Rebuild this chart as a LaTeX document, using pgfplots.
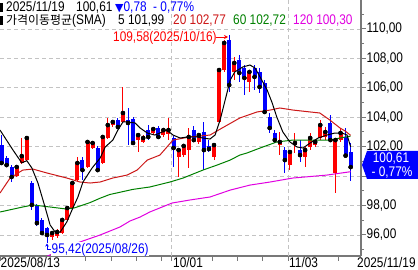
\documentclass[border=0pt]{standalone}
\usepackage{fontspec}
\usepackage{pgfplots}
\pgfplotsset{compat=1.18}
\usepackage{pgfplotstable}
\usetikzlibrary{arrows.meta}
\setmainfont[FakeStretch=0.85]{Liberation Sans}
\newfontfamily\kr{Noto Sans CJK KR}
\newfontfamily\dv{DejaVu Sans}
\newcommand\cf{\fontsize{14}{16}\selectfont}
\definecolor{upred}{RGB}{255,0,0}
\definecolor{dnblue}{RGB}{0,0,255}
\definecolor{ma20}{RGB}{204,24,24}
\definecolor{ma60}{RGB}{0,128,0}
\definecolor{ma120}{RGB}{224,0,224}
\definecolor{axgray}{RGB}{120,120,120}
\definecolor{gridgray}{RGB}{195,195,195}

\pgfplotstableread{
i O H L C
3 100.01 100.75 99.94 100.62
4 100.89 102.59 100.82 101.36
5 101.09 102.66 101.02 102.59
10 95.86 96.27 95.66 96.13
11 95.93 96.40 95.79 96.20
12 96.13 97.15 96.07 97.02
13 97.02 97.97 96.95 97.83
14 97.83 99.60 97.76 99.53
15 99.73 101.30 99.67 100.89
17 100.62 102.45 100.55 102.32
18 101.91 102.39 101.84 102.25
20 100.89 102.73 100.82 102.66
21 102.59 103.95 102.52 103.47
22 103.47 103.81 103.34 103.68
24 103.68 106.08 103.61 104.29
27 102.45 102.93 101.64 102.79
28 102.32 102.79 102.25 102.59
30 102.93 103.34 102.79 103.20
32 102.79 103.27 102.66 103.13
33 102.86 103.95 102.45 103.13
35 101.30 101.91 99.94 101.77
36 101.43 102.18 101.30 102.05
37 101.77 103.27 100.55 102.66
39 102.32 102.93 102.18 102.79
42 101.30 102.25 101.09 102.11
43 103.68 107.35 103.61 107.21
44 107.21 109.25 107.08 109.05
46 107.08 108.10 106.53 107.69
49 106.40 107.21 105.72 107.08
55 102.11 103.00 101.43 102.32
57 100.75 101.77 100.41 101.64
58 102.11 102.93 101.57 102.25
60 101.30 101.98 100.62 101.77
61 101.98 102.93 101.77 102.59
62 102.11 102.45 101.98 102.32
63 102.59 103.81 102.45 103.47
64 102.66 103.34 102.45 103.00
66 100.21 102.59 98.85 102.45
67 102.45 103.27 102.32 102.93
}\up

\pgfplotstableread{
i O H L C
0 102.11 102.79 100.75 100.89
1 101.23 101.36 100.62 100.75
2 100.62 100.75 99.60 99.94
6 99.53 99.67 97.70 98.04
7 98.04 98.10 96.61 96.81
8 97.02 97.15 96.00 96.13
9 96.47 96.54 95.42 96.00
16 101.09 101.30 99.73 100.41
19 101.91 102.05 100.28 100.41
23 103.81 103.95 103.20 103.34
25 103.81 104.63 102.11 103.61
26 103.88 104.02 102.11 102.25
29 103.13 103.47 102.45 102.66
31 103.27 103.40 102.52 102.66
34 102.59 102.73 100.62 101.91
38 103.13 103.40 102.32 102.45
40 103.00 103.68 100.41 101.77
41 102.05 102.45 101.64 101.84
45 109.25 109.58 105.72 106.19
47 107.89 108.24 106.40 107.01
48 107.35 107.55 105.51 106.67
50 107.35 107.55 105.85 106.74
51 107.08 107.35 105.65 106.06
52 106.33 106.53 104.29 104.36
53 104.02 104.29 102.93 103.27
54 102.93 103.13 102.25 102.45
56 101.77 101.98 100.21 101.09
59 101.77 102.45 100.96 101.43
65 103.61 104.15 102.32 102.45
68 102.66 103.27 101.30 101.39
69 101.64 102.25 99.67 100.61
}\down

\begin{document}
\begin{tikzpicture}
\path[use as bounding box] (0bp,-14bp) rectangle (418bp,256bp);
\begin{axis}[
  at={(0bp,0bp)}, anchor=south west,
  scale only axis, width=361bp, height=256bp,
  xmin=-0.3, xmax=71.05, ymin=94.57, ymax=111.97,
  axis x line*=bottom, axis y line*=right,
  axis line style={draw=axgray, line width=1.6bp},
  tick align=outside,
  major tick length=4.5bp, minor tick length=3bp,
  tick style={draw=axgray, line width=1bp},
  xtick={-0.3,16.65,21.65,26.65,31.65,33.65,41.65,46.65,51.65,56.65,66.65},
  xticklabels={,,},
  ytick={96,98,...,110},
  yticklabels={{96,00},{98,00},{},{102,00},{104,00},{106,00},{108,00},{110,00}},
  minor ytick={95,97,...,111},
  ymajorgrids,
  major grid style={draw=gridgray, dash pattern=on 4bp off 3bp, line width=0.8bp},
  yticklabel style={font=\cf, anchor=west, inner sep=0pt, xshift=1bp},
  clip=true,
]
\draw[draw=gridgray, dash pattern=on 4bp off 3bp, line width=0.8bp] (axis cs:33.65,94.57) -- (axis cs:33.65,111.97);
\draw[draw=gridgray, dash pattern=on 4bp off 3bp, line width=0.8bp] (axis cs:56.65,94.57) -- (axis cs:56.65,111.97);

% wicks
\addplot[only marks, mark=none, forget plot,
  error bars/.cd, y dir=both, y explicit, error mark=none,
  error bar style={line width=1bp, draw=upred}]
  table[x=i, y=C, y error plus expr={\thisrow{H}-\thisrow{C}}, y error minus expr={\thisrow{C}-\thisrow{L}}] {\up};
\addplot[only marks, mark=none, forget plot,
  error bars/.cd, y dir=both, y explicit, error mark=none,
  error bar style={line width=1bp, draw=dnblue}]
  table[x=i, y=C, y error plus expr={\thisrow{H}-\thisrow{C}}, y error minus expr={\thisrow{C}-\thisrow{L}}] {\down};
% bodies
\addplot[only marks, mark=none, forget plot,
  error bars/.cd, y dir=minus, y explicit, error mark=none,
  error bar style={line width=4bp, draw=upred}]
  table[x=i, y=C, y error minus expr={max(\thisrow{C}-\thisrow{O},0.07)}] {\up};
\addplot[only marks, mark=none, forget plot,
  error bars/.cd, y dir=plus, y explicit, error mark=none,
  error bar style={line width=4bp, draw=dnblue}]
  table[x=i, y=C, y error plus expr={max(\thisrow{O}-\thisrow{C},0.07)}] {\down};

% moving averages
\addplot[ma120, line width=1bp, mark=none] coordinates {
(8.0,94.40) (14.9,95.45) (19.5,96.00) (23.4,96.54) (25.4,96.95) (27.4,97.22) (29.3,97.56) (33.7,98.17) (37.3,98.38) (41.2,98.58) (45.2,99.05) (49.1,99.39) (53.1,99.60) (57.6,99.87) (64.3,100.07) (69,100.30)};
\addplot[ma60, line width=1bp, mark=none] coordinates {
(-0.3,97.56) (4.2,97.90) (6.2,98.04) (9.6,97.90) (12.9,97.76) (14.5,97.85) (17.5,98.20) (19.5,98.50) (21.4,98.75) (26.0,99.10) (29.3,99.26) (33.3,99.60) (35.9,99.87) (39.8,100.41) (42.6,100.75) (45.2,101.09) (47.1,101.43) (48.5,101.57) (51.1,101.91) (54.4,102.32) (57.6,102.45) (61.0,102.45) (64.9,102.45) (66.9,102.59) (69,102.72)};
\addplot[ma20, line width=1bp, mark=none] coordinates {
(-0.3,98.85) (1.7,99.87) (4.2,100.41) (6.2,100.48) (9.0,100.21) (12.9,99.87) (15.5,99.60) (17.5,99.53) (19.5,99.60) (22.0,99.87) (24.8,100.07) (26.8,100.41) (28.8,101.09) (31.3,101.43) (33.9,102.45) (37.2,102.66) (41.2,102.79) (43.6,103.27) (47.1,103.95) (50.5,104.36) (53.1,104.49) (55.0,104.63) (57.6,104.49) (61.0,104.36) (62.9,104.29) (64.9,103.81) (66.9,103.27) (67.9,103.07) (69,102.77)};
\addplot[black, line width=1bp, mark=none] coordinates {
(-0.3,103.13) (2.27,101.77) (4.0,100.90) (5.0,101.05) (6.0,100.55) (7.2,99.53) (8.6,97.90) (9.6,96.68) (10.6,96.20) (11.6,96.20) (12.9,96.88) (14.1,97.83) (15.1,98.58) (16.1,99.60) (17.9,100.55) (19.5,101.23) (20.5,101.98) (22.0,102.45) (23.0,103.13) (24.0,103.68) (25.0,103.68) (26.4,103.61) (27.4,103.27) (28.8,102.93) (30.3,102.79) (32.7,103.13) (33.9,102.79) (35.3,102.59) (36.7,102.66) (38.6,102.66) (39.8,102.59) (41.2,102.52) (42.2,102.79) (43.2,103.81) (44.2,105.17) (45.2,106.53) (46.1,107.08) (47.7,107.42) (49.1,107.55) (50.1,107.35) (51.1,106.74) (52.5,105.85) (53.5,104.97) (54.4,104.02) (55.6,103.00) (57.0,102.32) (58.4,101.98) (59.6,101.91) (61.0,102.25) (62.6,102.59) (64.3,102.79) (65.9,102.93) (67.3,102.93) (68.3,102.79) (69,101.99)};
\end{axis}

% header lines
\fill[black] (0bp,244bp) rectangle (3bp,253bp);
\fill[black] (0bp,231bp) rectangle (3bp,240bp);
\node[anchor=base west, inner sep=0pt] at (6bp,244bp) {\cf 2025/11/19};
\node[anchor=base west, inner sep=0pt] at (76bp,244bp) {\cf 100,61};
\node[anchor=base west, inner sep=0pt, text=dnblue] at (115bp,244bp) {{\dv\fontsize{11}{12}\selectfont ▼}\cf 0,78};
\node[anchor=base west, inner sep=0pt, text=dnblue] at (153bp,244bp) {\cf - 0,77\%};
\node[anchor=base west, inner sep=0pt] at (6bp,231bp) {{\kr\fontsize{12}{14}\selectfont 가격이동평균}\cf(SMA)};
\node[anchor=base west, inner sep=0pt] at (118bp,231bp) {\cf 5 101,99};
\node[anchor=base west, inner sep=0pt, text=ma20] at (173bp,231bp) {\cf 20 102,77};
\node[anchor=base west, inner sep=0pt, text=ma60] at (233bp,231bp) {\cf 60 102,72};
\node[anchor=base west, inner sep=0pt, text=ma120] at (293bp,231bp) {\cf 120 100,30};

% annotations
\node[anchor=base west, inner sep=0pt, text=upred] at (113bp,214bp) {\cf 109,58(2025/10/16)};
\draw[upred, line width=0.9bp, -{Stealth[length=4bp,width=4bp]}] (216bp,219bp) -- (228bp,219bp);
\node[anchor=base west, inner sep=0.5pt, fill=white, text=dnblue] at (51bp,3bp) {\cf 95,42(2025/08/26)};
\draw[dnblue, line width=0.9bp, -{Stealth[length=3bp,width=3.5bp]}] (51bp,7bp) -- (47bp,7bp) -- (47bp,12.5bp);

% price box
\fill[dnblue] (362bp,91bp) -- (367bp,105bp) -- (418bp,105bp) -- (418bp,77bp) -- (367bp,77bp) -- cycle;
\node[anchor=base, inner sep=0pt, text=white] at (391bp,93bp) {\cf 100,61};
\node[anchor=base, inner sep=0pt, text=white] at (392bp,79bp) {\cf - 0,77\%};

% date labels
\node[anchor=base west, inner sep=0pt] at (0.5bp,-11.3bp) {\cf 2025/08/13};
\node[anchor=base west, inner sep=0pt] at (173bp,-11.3bp) {\cf 10/01};
\node[anchor=base west, inner sep=0pt] at (289bp,-11.3bp) {\cf 11/03};
\node[anchor=base west, inner sep=0pt] at (357bp,-11.3bp) {\cf 2025/11/19};
\end{tikzpicture}
\end{document}
